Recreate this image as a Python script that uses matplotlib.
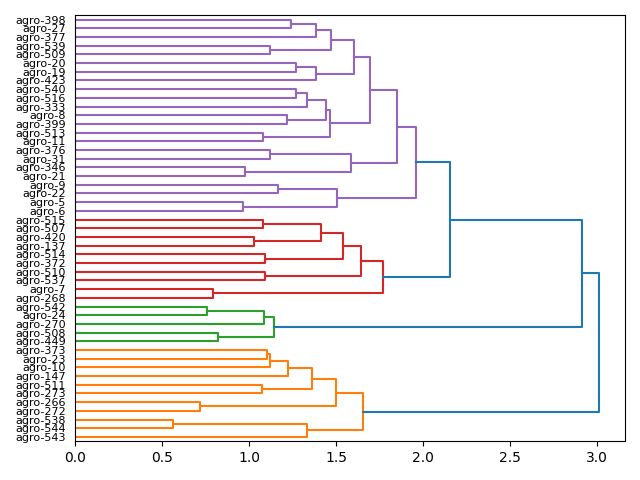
import matplotlib
matplotlib.use("Agg")
import matplotlib.pyplot as plt

# leaves, bottom to top as drawn
leaf_labels = [
    "agro-543", "agro-544", "agro-538", "agro-272", "agro-266", "agro-273", "agro-511",
    "agro-147", "agro-10", "agro-23", "agro-373", "agro-449", "agro-508", "agro-270",
    "agro-24", "agro-542", "agro-268", "agro-7", "agro-537", "agro-510", "agro-372",
    "agro-514", "agro-137", "agro-420", "agro-507", "agro-515", "agro-6", "agro-5",
    "agro-22", "agro-9", "agro-21", "agro-346", "agro-31", "agro-376", "agro-11",
    "agro-513", "agro-399", "agro-8", "agro-333", "agro-516", "agro-540", "agro-423",
    "agro-19", "agro-20", "agro-509", "agro-539", "agro-377", "agro-27", "agro-398",
]

# merges: (child a, child b, distance); ints point to earlier merges
merge_a = ["agro-544", "agro-543", "agro-272", "agro-273", "agro-373", 4, 5, 3, 2, 1,
           "agro-24", 10, "agro-449", 12,
           "agro-268", "agro-537", "agro-372", "agro-137", "agro-507", 17, 16, 15, 14,
           "agro-6", "agro-22", 23, "agro-21", "agro-31", 26, "agro-11", "agro-399",
           "agro-516", "agro-333", 30, 29, "agro-19", "agro-423", "agro-509", "agro-27",
           "agro-377", 37, 36, 34, 28, 25,
           22, 13, 9]
merge_b = ["agro-538", 0, "agro-266", "agro-511", "agro-23", "agro-10", "agro-147", 6, 7, 8,
           "agro-542", "agro-270", "agro-508", 11,
           "agro-7", "agro-510", "agro-514", "agro-420", "agro-515", 18, 19, 20, 21,
           "agro-5", "agro-9", 24, "agro-346", "agro-376", 27, "agro-513", "agro-8",
           "agro-540", 31, 32, 33, "agro-20", 35, "agro-539", "agro-398",
           38, 39, 40, 41, 42, 43,
           44, 45, 46]
merge_dist = [0.562, 1.331, 0.717, 1.073, 1.102, 1.119, 1.222, 1.360, 1.497, 1.652,
              0.757, 1.084, 0.820, 1.142,
              0.792, 1.090, 1.090, 1.029, 1.080, 1.411, 1.538, 1.641, 1.767,
              0.964, 1.165, 1.505, 0.975, 1.119, 1.583, 1.080, 1.216,
              1.268, 1.331, 1.440, 1.463, 1.268, 1.383, 1.119, 1.239,
              1.383, 1.469, 1.601, 1.692, 1.851, 1.962,
              2.154, 2.914, 3.011]

cluster_colors = ["C1", "C2", "C3", "C4"]
above_color = "C0"


def node_pos(node, ys, xs):
    if isinstance(node, str):
        return 5 + 10 * leaf_labels.index(node), 0.0
    return ys[node], xs[node]


def leaf_min(node, mins):
    if isinstance(node, str):
        return leaf_labels.index(node)
    return mins[node]


max_d = max(merge_dist)
threshold = 0.7 * max_d

ys, xs, mins = [], [], []
for a, b, d in zip(merge_a, merge_b, merge_dist):
    ya, _ = node_pos(a, ys, xs)
    yb, _ = node_pos(b, ys, xs)
    ys.append((ya + yb) / 2)
    xs.append(d)
    mins.append(min(leaf_min(a, mins), leaf_min(b, mins)))

# find cluster roots (below threshold, parent above) and colour them in leaf order
parent = {}
for i, (a, b) in enumerate(zip(merge_a, merge_b)):
    for c in (a, b):
        if not isinstance(c, str):
            parent[c] = i
roots = [i for i, d in enumerate(merge_dist)
         if d < threshold and merge_dist[parent[i]] >= threshold]
roots.sort(key=lambda i: mins[i])
root_color = {r: cluster_colors[k % len(cluster_colors)] for k, r in enumerate(roots)}


def color_of(i):
    if merge_dist[i] >= threshold:
        return above_color
    while i not in root_color:
        i = parent[i]
    return root_color[i]


fig, ax = plt.subplots(figsize=(6.4, 4.8), dpi=100)
for i, (a, b, d) in enumerate(zip(merge_a, merge_b, merge_dist)):
    ya, xa = node_pos(a, ys, xs)
    yb, xb = node_pos(b, ys, xs)
    ax.plot([xa, d, d, xb], [ya, ya, yb, yb], color=color_of(i))

ax.set_xlim(0, max_d * 1.05)
ax.set_ylim(0, 10 * len(leaf_labels))
ax.set_yticks([5 + 10 * k for k in range(len(leaf_labels))])
ax.set_yticklabels(leaf_labels, fontsize=8)
for line in ax.get_yticklines():
    line.set_visible(False)

plt.tight_layout()
plt.savefig("out.png")
